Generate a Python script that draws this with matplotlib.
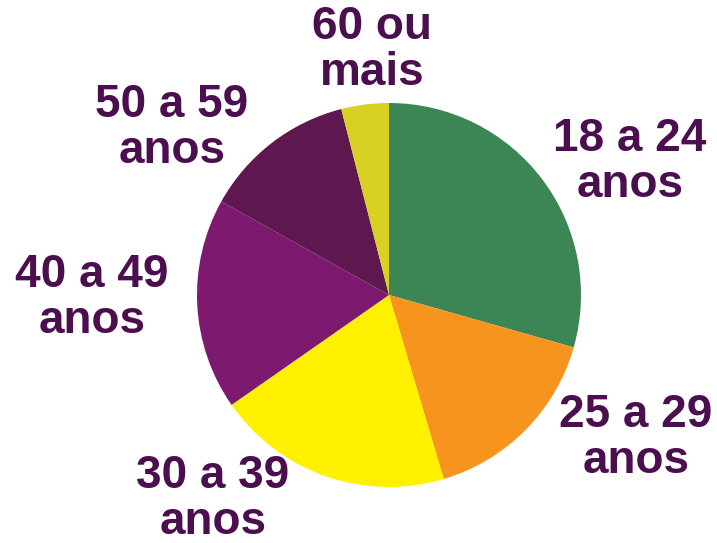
import matplotlib
matplotlib.use("Agg")
import matplotlib.pyplot as plt

categories = ["18 a 24\nanos", "25 a 29\nanos", "30 a 39\nanos", "40 a 49\nanos", "50 a 59\nanos", "60 ou\nmais"]
values = [29.4, 16.0, 19.9, 17.8, 12.9, 4.0]
colors = ["#3b8654", "#f7941e", "#fff100", "#7d1a6f", "#5f1750", "#d6d122"]
label_pos = [(630, 162), (636, 438), (213, 499), (92, 298), (172, 128), (372, 50)]

W, H = 717, 543
fig = plt.figure(figsize=(W / 100, H / 100), dpi=100)
ax = fig.add_axes([0, 0, 1, 1])

ax.pie(values, colors=colors, startangle=90, counterclock=False,
       center=(389, H - 295), radius=192, frame=True,
       wedgeprops=dict(linewidth=0))
ax.set_xlim(0, W)
ax.set_ylim(0, H)
ax.set_aspect("equal")
ax.axis("off")

for lab, (x, y) in zip(categories, label_pos):
    ax.text(x, H - y, lab, ha="center", va="center", fontsize=33,
            fontweight="bold", family="Liberation Sans", color="#4b0e4e",
            linespacing=1.08, multialignment="center")

fig.savefig("out.png", dpi=100)
